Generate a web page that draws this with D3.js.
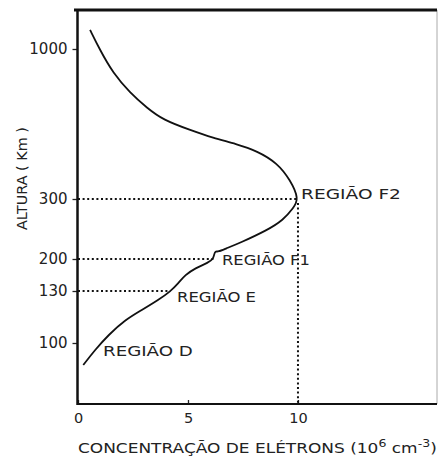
<!DOCTYPE html>
<html>
<head>
<meta charset="utf-8">
<script src="https://cdn.jsdelivr.net/npm/d3@7"></script>
<style>
html,body{margin:0;padding:0;background:#fff;}
svg{display:block;}
text{font-family:"DejaVu Sans",sans-serif;fill:#222;}
</style>
</head>
<body>
<svg id="chart" width="439" height="460"></svg>
<script>
// ---- data ----
const xTicks = [0, 5, 10];
const yTicks = [100, 130, 200, 300, 1000];
const yTickLabels = ["100", "130", "200", "300", "1000"];
// electron concentration (10^6 cm^-3) and altitude (km) along the profile
const concentration = [0.55, 0.55, 1.0, 1.59, 2.37, 3.14, 3.87, 5.10, 6.14, 7.19, 8.15, 9.06, 9.65, 10.05, 9.79, 9.33, 8.60, 7.37, 6.69, 6.37, 6.24, 6.19, 6.16, 5.93, 5.33, 4.87, 4.57, 4.19, 3.65, 2.90, 2.14, 1.38, 0.77, 0.24, 0.24];
const altitude      = [1088, 1088, 995, 888, 795, 725, 669, 622, 585, 557, 524, 468, 389, 300, 285, 265, 248, 227, 217, 212, 213, 208, 201, 192, 180, 165, 147.5, 129.6, 124.8, 119, 113.3, 104.6, 95.4, 85.6, 85.6];
// region peaks (concentration, altitude)
const regionNames = ["REGIÃO F2", "REGIÃO F1", "REGIÃO E", "REGIÃO D"];
const regionConc  = [9.99, 6.16, 4.19, 1.2];
const regionAlt   = [300, 200, 130, 93];
const xLabel = "CONCENTRAÇÃO DE ELÉTRONS (10";
const yLabel = "ALTURA ( Km )";

// ---- scales ----
const svg = d3.select("#chart");
const x = d3.scaleLinear().domain([0, 16.32]).range([78, 437]);
const y = d3.scaleLinear()
  .domain([60, 100, 130, 200, 300, 1000, 1180])
  .range([404, 343, 291, 259, 199, 49, 10]);

// ---- frame ----
svg.append("line").attr("x1", 437).attr("x2", 437).attr("y1", 10).attr("y2", 404)
  .attr("stroke", "#aaa").attr("stroke-width", 1);
svg.append("line").attr("x1", 74).attr("x2", 437).attr("y1", 10).attr("y2", 10)
  .attr("stroke", "#111").attr("stroke-width", 3);

// ---- axes ----
const yAxis = d3.axisLeft(y).tickValues(yTicks).tickSize(5).tickPadding(5)
  .tickFormat((d, i) => yTickLabels[i]);
const gy = svg.append("g").attr("transform", "translate(77.5,0)").call(yAxis);
gy.select(".domain").remove();
gy.selectAll(".tick line").attr("stroke", "#222").attr("stroke-width", 1.3);
gy.selectAll(".tick text").attr("font-size", 15).attr("fill", "#333")
  .attr("font-family", "DejaVu Sans, sans-serif");

const xAxis = d3.axisBottom(x).tickValues(xTicks).tickSize(-4).tickPadding(9);
const gx = svg.append("g").attr("transform", "translate(0,404)").call(xAxis);
gx.select(".domain").remove();
gx.selectAll(".tick line").attr("stroke", "#222").attr("stroke-width", 1.3);
gx.selectAll(".tick text").attr("font-size", 14.5).attr("fill", "#333")
  .attr("font-family", "DejaVu Sans, sans-serif");

svg.append("line").attr("x1", 77.5).attr("x2", 77.5).attr("y1", 9).attr("y2", 405)
  .attr("stroke", "#111").attr("stroke-width", 2.5);
svg.append("line").attr("x1", 77).attr("x2", 437).attr("y1", 404).attr("y2", 404)
  .attr("stroke", "#111").attr("stroke-width", 2);

// ---- dotted guide lines ----
const dots = svg.append("g").attr("stroke", "#111").attr("stroke-width", 2)
  .attr("stroke-dasharray", "2,2.6").attr("fill", "none");
[0, 1, 2].forEach(i => {
  dots.append("line").attr("x1", x(0)).attr("x2", x(regionConc[i]))
    .attr("y1", y(regionAlt[i])).attr("y2", y(regionAlt[i]));
});
dots.append("line").attr("x1", x(10)).attr("x2", x(10))
  .attr("y1", y(300) + 4).attr("y2", y(60));

// ---- profile curve ----
const pts = concentration.map((c, i) => [x(c), y(altitude[i])]);
svg.append("path").datum(pts)
  .attr("d", d3.line().curve(d3.curveBasis))
  .attr("fill", "none").attr("stroke", "#111").attr("stroke-width", 1.8);

// ---- helper to stretch text to a measured width ----
function fit(t, w) {
  const bb = t.node().getBBox();
  const s = w / bb.width;
  const x0 = bb.x;
  t.attr("transform", `translate(${x0},0) scale(${s},1) translate(${-x0},0)`);
}

// ---- region labels ----
const labelPos = [[301, 199, 100], [222, 265, 88], [177, 302, 79], [103, 356, 90]];
regionNames.forEach((n, i) => {
  const t = svg.append("text").attr("x", labelPos[i][0]).attr("y", labelPos[i][1])
    .attr("font-size", 13.5).attr("fill", i === 3 ? "#444" : "#222").text(n);
  fit(t, labelPos[i][2]);
});

// ---- axis titles ----
const xt = svg.append("text").attr("x", 78).attr("y", 453).attr("font-size", 13.5);
xt.append("tspan").text(xLabel);
xt.append("tspan").attr("dy", -6).attr("font-size", 10).text("6");
xt.append("tspan").attr("dy", 6).text(" cm");
xt.append("tspan").attr("dy", -6).attr("font-size", 10).text("-3");
xt.append("tspan").attr("dy", 6).text(")");
fit(xt, 359);

const yt = svg.append("text").attr("font-size", 13.5).attr("fill", "#333")
  .attr("transform", "translate(26.5,230) rotate(-90)").text(yLabel);
const yb = yt.node().getBBox();
yt.attr("transform", `translate(26.5,230) rotate(-90) scale(${103 / yb.width},1)`);
</script>
</body>
</html>
